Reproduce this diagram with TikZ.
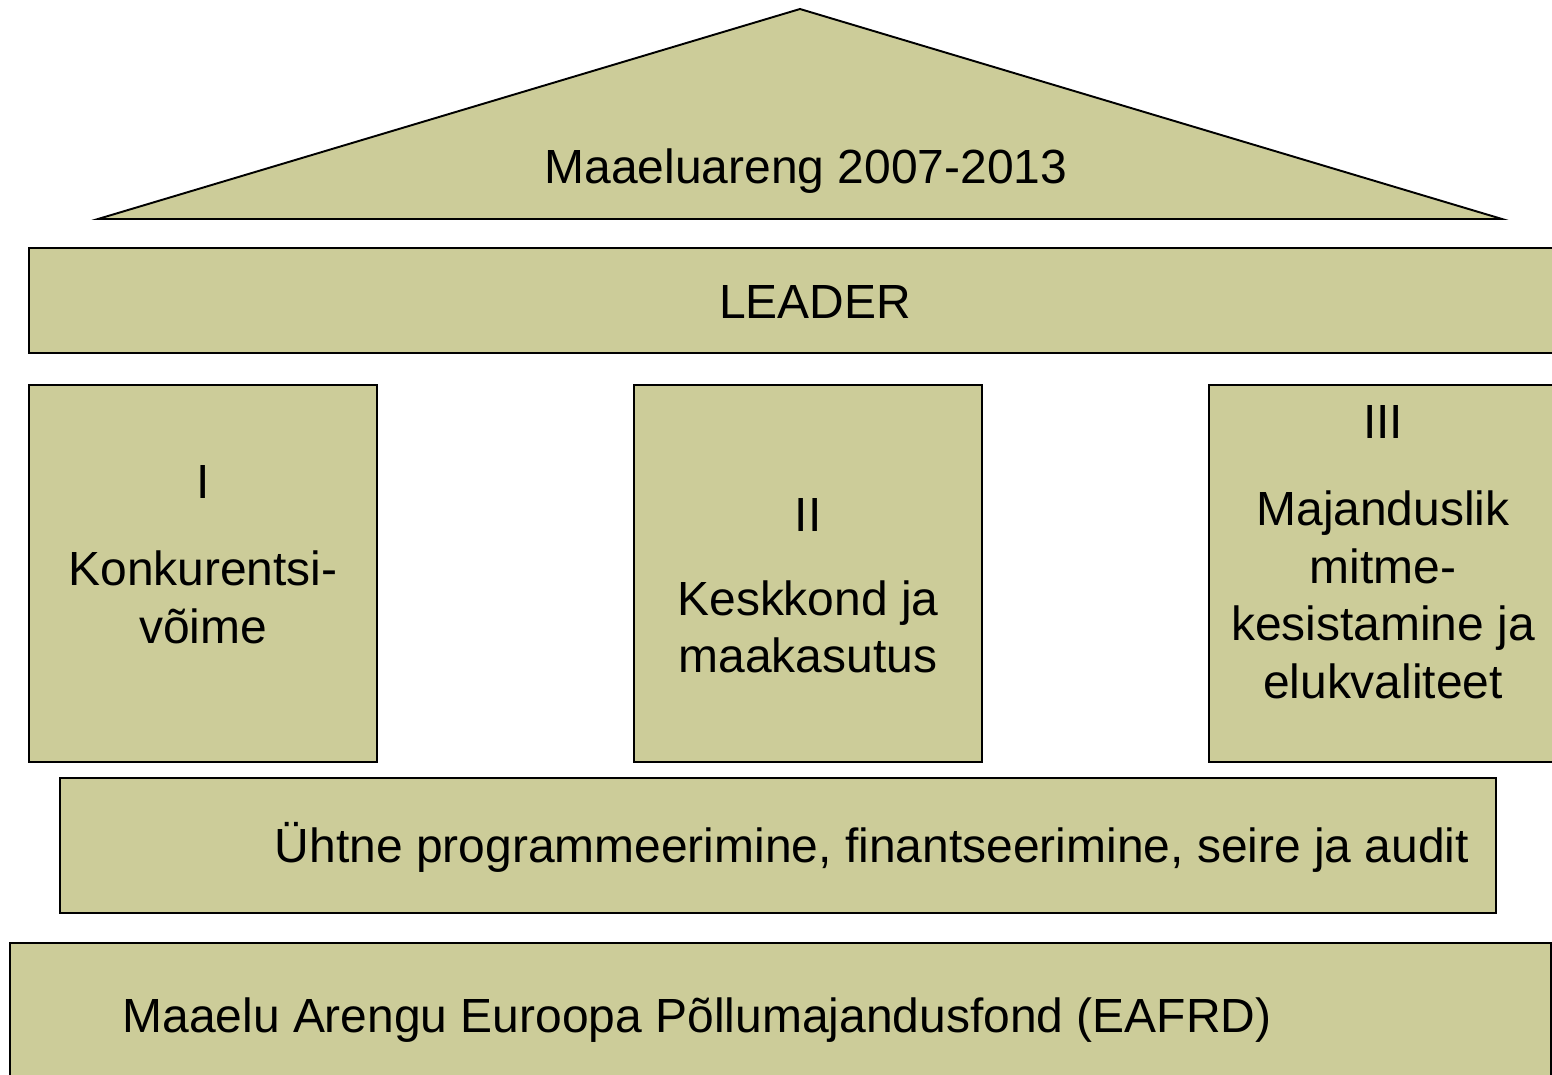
\documentclass[tikz,border=0pt]{standalone}
\usepackage{fontspec}
\setmainfont{Liberation Sans}
\usepackage{xcolor}
\definecolor{olivefill}{RGB}{204,204,153}
\tikzset{
  box/.style={draw=black,line width=1.1pt,fill=olivefill,rectangle,inner sep=0pt},
  lbl/.style={inner sep=0pt,font=\fontsize{27.3}{32.7}\selectfont,align=center}
}

\begin{document}
\begin{tikzpicture}[x=0.02cm,y=-0.02cm]
                            \useasboundingbox (0,0) rectangle (1552,1075);
                            \clip (0,0) rectangle (1552,1075);

                            % Roof
                            \draw[line width=1.1pt,fill=olivefill,line join=miter]
                            (98,219) -- (800,9) -- (1502,219) -- cycle;
                            \node[lbl,anchor=base] (roof) at (806,183) {Maaeluareng 2007-2013};

                            % LEADER beam
                            \node[box,minimum width=30.82cm,minimum height=2.1cm] (leader) at (799.5,300.5) {};
                            \node[lbl,anchor=base] (leadert) at (815,318) {LEADER};

                            % Pillars
                            \node[box,minimum width=6.96cm,minimum height=7.54cm] (p1) at (203,573.5) {};
                            \node[box,minimum width=6.96cm,minimum height=7.54cm] (p2) at (808,573.5) {};
                            \node[box,minimum width=6.96cm,minimum height=7.54cm] (p3) at (1383,573.5) {};

                            \node[lbl,anchor=north] (p1t) at (203,465) {I\\[17pt]Konkurentsi-\\võime};
                            \node[lbl,anchor=north] (p2t) at (808,498) {II\\[15pt]Keskkond ja\\maakasutus};
                            \node[lbl,anchor=north] (p3t) at (1383,405) {III\\[17pt]Majanduslik\\mitme-\\kesistamine ja\\elukvaliteet};

                            % Base
                            \node[box,minimum width=28.72cm,minimum height=2.7cm] (base) at (778,845.5) {};
                            \node[lbl,anchor=base] (baset) at (872,862) {Ühtne programmeerimine, finantseerimine, seire ja audit};

                            % Fund
                            \node[box,minimum width=30.82cm,minimum height=3.14cm] (fund) at (780.5,1021.5) {};
                            \node[lbl,anchor=base] (fundt) at (697,1032) {Maaelu Arengu Euroopa Põllumajandusfond (EAFRD)};
                      \end{tikzpicture}
\end{document}
